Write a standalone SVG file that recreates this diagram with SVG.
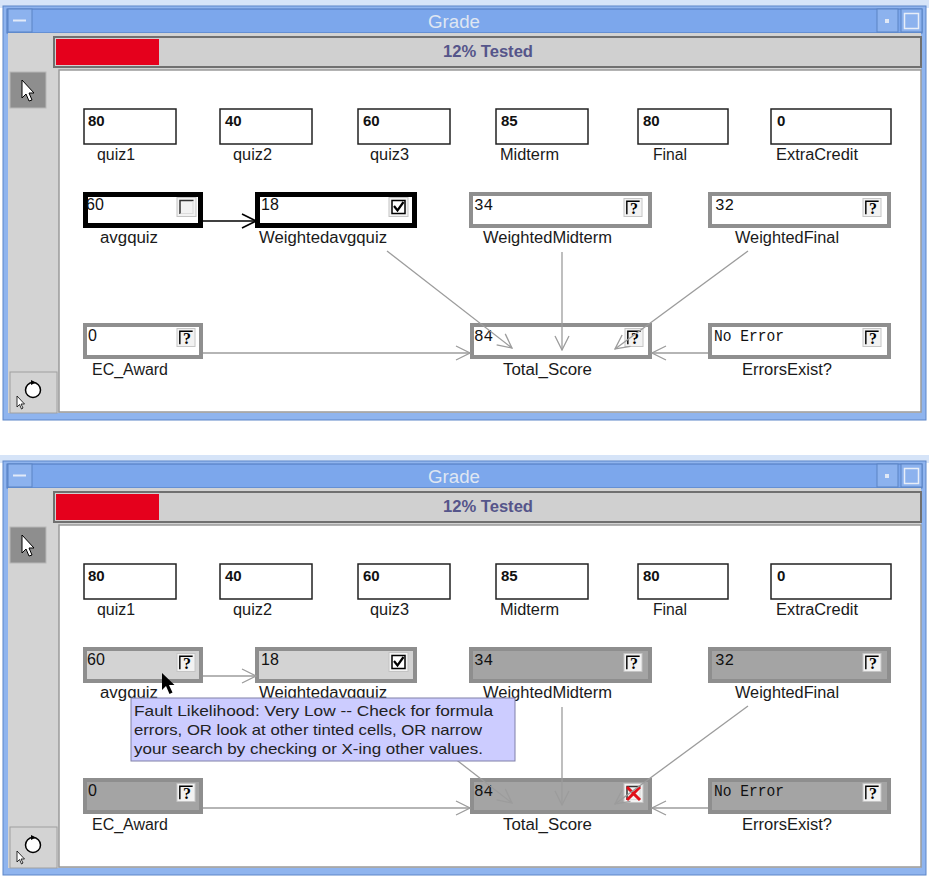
<svg xmlns="http://www.w3.org/2000/svg" xmlns:xlink="http://www.w3.org/1999/xlink" width="929" height="877" viewBox="0 0 929 877">
<style>
.frame{fill:#8fb4ee;stroke:#5d86c8;stroke-width:1}
.tbar{fill:#7ca7ec;stroke:#4f79bd;stroke-width:1}
.body{fill:#d3d3d3}
.canvas{fill:#fff;stroke:#9a9a9a;stroke-width:1.5}
.prog{fill:#d0d0d0;stroke:#707070;stroke-width:2}
.red{fill:#e5001c}
.title{font-family:"Liberation Sans",Arial,sans-serif;font-size:18px;fill:#dfe6f2}
.pct{font-family:"Liberation Sans",Arial,sans-serif;font-size:16px;font-weight:bold;fill:#55558a}
.btn{fill:#8cb2ee;stroke:#5b84c4;stroke-width:1}
.tool{fill:#8e8e8e;stroke:#b8b8b8;stroke-width:1}
.tool2{fill:#d3d3d3;stroke:#a0a0a0;stroke-width:1}
.lbl{font-family:"Liberation Sans",Arial,sans-serif;font-size:16px;fill:#1a1a1a}
.v1{font-family:"Liberation Sans",Arial,sans-serif;font-size:15px;font-weight:bold;fill:#111}
.v2{font-family:"Liberation Sans",Arial,sans-serif;font-size:16px;fill:#111}
.vm{font-family:"Liberation Mono","Courier New",monospace;font-size:16px;fill:#111}
.in{fill:#fff;stroke:#222;stroke-width:1.5}
.bn{fill:#fff;stroke:#000;stroke-width:5}
.gn{fill:#fff;stroke:#8f8f8f;stroke-width:4}
.ln{fill:#d3d3d3;stroke:#8e8e8e;stroke-width:4}
.dn{fill:#a4a4a4;stroke:#8e8e8e;stroke-width:4}
.conn{stroke:#9c9c9c;stroke-width:1.3;fill:none;marker-end:url(#ag)}
.connb{stroke:#000;stroke-width:1.5;fill:none;marker-end:url(#ab)}
.q{font-family:"Liberation Serif","Times New Roman",serif;font-size:16px;font-weight:bold;fill:#000}
.tip{fill:#ccccff;stroke:#8080a8;stroke-width:1}
.tipt{font-family:"Liberation Sans",Arial,sans-serif;font-size:15px;fill:#222}
</style>
<defs>
<marker id="ag" viewBox="0 0 16 16" refX="15" refY="8" markerWidth="16" markerHeight="16" markerUnits="userSpaceOnUse" orient="auto">
<path d="M1,1 L15,8 L1,15" fill="none" stroke="#9c9c9c" stroke-width="1.3"/>
</marker>
<marker id="ab" viewBox="0 0 16 16" refX="15" refY="8" markerWidth="16" markerHeight="16" markerUnits="userSpaceOnUse" orient="auto">
<path d="M1,1 L15,8 L1,15" fill="none" stroke="#000" stroke-width="1.6"/>
</marker>
<symbol id="boxq" viewBox="0 0 20 20" overflow="visible">
<rect x="0.5" y="0.5" width="19" height="19" fill="#f2f2f2" stroke="#c4c4c4"/>
<path d="M3.5,17 V3.5 H17" fill="none" stroke="#000" stroke-width="1.5"/>
</symbol>
<symbol id="boxe" viewBox="0 0 20 20" overflow="visible">
<rect x="0.5" y="0.5" width="19" height="19" fill="#f2f2f2" stroke="#c4c4c4"/>
<path d="M3.5,17 V3.5 H17" fill="none" stroke="#333" stroke-width="1.5"/>
<path d="M4,16.5 H16.5 V4" fill="none" stroke="#dcdcdc" stroke-width="1.2"/>
</symbol>
<symbol id="boxc" viewBox="0 0 20 20" overflow="visible">
<rect x="0.5" y="0.5" width="19" height="19" fill="#f2f2f2" stroke="#c4c4c4"/>
<rect x="3.5" y="3.5" width="13" height="13" fill="#fff" stroke="#000" stroke-width="1.5"/>
<path d="M5.5,9 L9,13.5 L15,5" fill="none" stroke="#000" stroke-width="2.2"/>
</symbol>
</defs>

<rect x="0" y="0" width="929" height="877" fill="#fff"/>

<!-- ================= TOP WINDOW ================= -->
<g id="window-top">
<rect x="0" y="0" width="929" height="8" fill="#d6e4f8"/>
<rect class="frame" x="3" y="6" width="923" height="414"/>
<rect class="tbar" x="7" y="9" width="915" height="24"/>
<text class="title" x="428" y="28" textLength="52" lengthAdjust="spacingAndGlyphs">Grade</text>
<rect class="btn" x="8" y="9" width="24" height="23"/>
<line x1="13" y1="20.5" x2="26" y2="20.5" stroke="#e2eaf8" stroke-width="2"/>
<rect class="btn" x="877" y="9" width="21" height="23"/>
<rect x="885" y="19" width="4" height="4" fill="#e0e8f5"/>
<rect class="btn" x="901" y="9" width="21" height="23"/>
<rect x="904.5" y="13.5" width="14" height="15" fill="none" stroke="#e8eef8" stroke-width="1.5"/>
<rect class="body" x="8" y="33" width="913" height="380"/>
<rect class="prog" x="54" y="37" width="867" height="30"/>
<rect class="red" x="56" y="39" width="103" height="26"/>
<text class="pct" x="443" y="57" textLength="90" lengthAdjust="spacingAndGlyphs">12% Tested</text>
<rect class="canvas" x="59" y="70" width="862" height="342"/>
<rect class="tool" x="10" y="72" width="36" height="36"/>
<path d="M22,80 L22,98 L26,94 L29,101 L32,100 L29,93 L34,93 Z" fill="#fff" stroke="#000" stroke-width="1"/>
<rect class="tool2" x="10" y="372" width="47" height="41"/>
<circle cx="33" cy="390" r="7.5" fill="#fff" stroke="#000" stroke-width="1.5"/>
<path d="M31,380 L36,382.5 L31,385 Z" fill="#000"/>
<path d="M17,396 L17,407 L19.5,404.5 L21.5,409 L23,408 L21,404 L24.5,404 Z" fill="#fff" stroke="#000" stroke-width="0.8"/>
</g>

<g id="top-quiz1"><rect class="in" x="84" y="109" width="92" height="35"/><text class="v1" x="88" y="126">80</text><text class="lbl" x="97" y="160" textLength="38" lengthAdjust="spacingAndGlyphs">quiz1</text></g>
<g id="top-quiz2"><rect class="in" x="220" y="109" width="92" height="35"/><text class="v1" x="225" y="126">40</text><text class="lbl" x="233" y="160" textLength="39" lengthAdjust="spacingAndGlyphs">quiz2</text></g>
<g id="top-quiz3"><rect class="in" x="358" y="109" width="92" height="35"/><text class="v1" x="363" y="126">60</text><text class="lbl" x="370" y="160" textLength="39" lengthAdjust="spacingAndGlyphs">quiz3</text></g>
<g id="top-midterm"><rect class="in" x="496" y="109" width="92" height="35"/><text class="v1" x="501" y="126">85</text><text class="lbl" x="500" y="160" textLength="59" lengthAdjust="spacingAndGlyphs">Midterm</text></g>
<g id="top-final"><rect class="in" x="638" y="109" width="90" height="35"/><text class="v1" x="643" y="126">80</text><text class="lbl" x="653" y="160" textLength="34" lengthAdjust="spacingAndGlyphs">Final</text></g>
<g id="top-extracredit"><rect class="in" x="771" y="109" width="120" height="35"/><text class="v1" x="777" y="126">0</text><text class="lbl" x="776" y="160" textLength="82" lengthAdjust="spacingAndGlyphs">ExtraCredit</text></g>

<g id="top-avgquiz"><rect class="bn" x="85.5" y="194.5" width="115" height="31"/><text class="v2" x="86" y="210">60</text><use href="#boxe" x="176" y="197" width="21" height="20"/><text class="lbl" x="100" y="243" textLength="58" lengthAdjust="spacingAndGlyphs">avgquiz</text></g>
<g id="top-weightedavgquiz"><rect class="bn" x="257.5" y="194.5" width="157" height="31"/><text class="v2" x="261" y="210">18</text><use href="#boxc" x="388" y="197" width="21" height="20"/><text class="lbl" x="259" y="243" textLength="128" lengthAdjust="spacingAndGlyphs">Weightedavgquiz</text></g>
<g id="top-weightedmidterm"><rect class="gn" x="471" y="194" width="179" height="32"/><text class="vm" x="474" y="210">34</text><use href="#boxq" x="623" y="198" width="20" height="19"/><text class="q" x="634" y="214" text-anchor="middle">?</text><text class="lbl" x="483" y="243" textLength="129" lengthAdjust="spacingAndGlyphs">WeightedMidterm</text></g>
<g id="top-weightedfinal"><rect class="gn" x="710" y="194" width="179" height="32"/><text class="vm" x="715" y="210">32</text><use href="#boxq" x="862" y="198" width="20" height="19"/><text class="q" x="873" y="214" text-anchor="middle">?</text><text class="lbl" x="735" y="243" textLength="104" lengthAdjust="spacingAndGlyphs">WeightedFinal</text></g>

<g id="top-ec_award"><rect class="gn" x="85" y="325" width="116" height="32"/><text class="v2" x="88" y="341">0</text><use href="#boxq" x="176" y="328" width="20" height="19"/><text class="q" x="187" y="344" text-anchor="middle">?</text><text class="lbl" x="92" y="375" textLength="76" lengthAdjust="spacingAndGlyphs">EC_Award</text></g>
<g id="top-total_score"><rect class="gn" x="472" y="325" width="178" height="32"/><text class="vm" x="474" y="341">84</text><use href="#boxq" x="624" y="328" width="20" height="19"/><text class="q" x="635" y="344" text-anchor="middle">?</text><text class="lbl" x="503" y="375" textLength="89" lengthAdjust="spacingAndGlyphs">Total_Score</text></g>
<g id="top-errorsexist"><rect class="gn" x="710" y="325" width="179" height="32"/><text class="vm" x="714" y="341" textLength="70" lengthAdjust="spacingAndGlyphs">No Error</text><use href="#boxq" x="862" y="328" width="20" height="19"/><text class="q" x="873" y="344" text-anchor="middle">?</text><text class="lbl" x="742" y="375" textLength="90" lengthAdjust="spacingAndGlyphs">ErrorsExist?</text></g>

<g id="connectors-top">
<line class="connb" x1="203" y1="221" x2="256" y2="221"/>
<line class="conn" x1="387" y1="251" x2="512" y2="348"/>
<line class="conn" x1="562" y1="252" x2="562" y2="350"/>
<line class="conn" x1="748" y1="251" x2="615" y2="349"/>
<line class="conn" x1="203" y1="353" x2="470" y2="353"/>
<line class="conn" x1="708" y1="353" x2="652" y2="353"/>
</g>

<!-- ================= BOTTOM WINDOW ================= -->
<g id="window-bottom" transform="translate(0,455)">
<rect x="0" y="0" width="929" height="8" fill="#d6e4f8"/>
<rect class="frame" x="3" y="6" width="923" height="414"/>
<rect class="tbar" x="7" y="9" width="915" height="24"/>
<text class="title" x="428" y="28" textLength="52" lengthAdjust="spacingAndGlyphs">Grade</text>
<rect class="btn" x="8" y="9" width="24" height="23"/>
<line x1="13" y1="20.5" x2="26" y2="20.5" stroke="#e2eaf8" stroke-width="2"/>
<rect class="btn" x="877" y="9" width="21" height="23"/>
<rect x="885" y="19" width="4" height="4" fill="#e0e8f5"/>
<rect class="btn" x="901" y="9" width="21" height="23"/>
<rect x="904.5" y="13.5" width="14" height="15" fill="none" stroke="#e8eef8" stroke-width="1.5"/>
<rect class="body" x="8" y="33" width="913" height="380"/>
<rect class="prog" x="54" y="37" width="867" height="30"/>
<rect class="red" x="56" y="39" width="103" height="26"/>
<text class="pct" x="443" y="57" textLength="90" lengthAdjust="spacingAndGlyphs">12% Tested</text>
<rect class="canvas" x="59" y="70" width="862" height="342"/>
<rect class="tool" x="10" y="72" width="36" height="36"/>
<path d="M22,80 L22,98 L26,94 L29,101 L32,100 L29,93 L34,93 Z" fill="#fff" stroke="#000" stroke-width="1"/>
<rect class="tool2" x="10" y="372" width="47" height="41"/>
<circle cx="33" cy="390" r="7.5" fill="#fff" stroke="#000" stroke-width="1.5"/>
<path d="M31,380 L36,382.5 L31,385 Z" fill="#000"/>
<path d="M17,396 L17,407 L19.5,404.5 L21.5,409 L23,408 L21,404 L24.5,404 Z" fill="#fff" stroke="#000" stroke-width="0.8"/>
</g>

<g transform="translate(0,455)">
<g id="bot-quiz1"><rect class="in" x="84" y="109" width="92" height="35"/><text class="v1" x="88" y="126">80</text><text class="lbl" x="97" y="160" textLength="38" lengthAdjust="spacingAndGlyphs">quiz1</text></g>
<g id="bot-quiz2"><rect class="in" x="220" y="109" width="92" height="35"/><text class="v1" x="225" y="126">40</text><text class="lbl" x="233" y="160" textLength="39" lengthAdjust="spacingAndGlyphs">quiz2</text></g>
<g id="bot-quiz3"><rect class="in" x="358" y="109" width="92" height="35"/><text class="v1" x="363" y="126">60</text><text class="lbl" x="370" y="160" textLength="39" lengthAdjust="spacingAndGlyphs">quiz3</text></g>
<g id="bot-midterm"><rect class="in" x="496" y="109" width="92" height="35"/><text class="v1" x="501" y="126">85</text><text class="lbl" x="500" y="160" textLength="59" lengthAdjust="spacingAndGlyphs">Midterm</text></g>
<g id="bot-final"><rect class="in" x="638" y="109" width="90" height="35"/><text class="v1" x="643" y="126">80</text><text class="lbl" x="653" y="160" textLength="34" lengthAdjust="spacingAndGlyphs">Final</text></g>
<g id="bot-extracredit"><rect class="in" x="771" y="109" width="120" height="35"/><text class="v1" x="777" y="126">0</text><text class="lbl" x="776" y="160" textLength="82" lengthAdjust="spacingAndGlyphs">ExtraCredit</text></g>

<g id="bot-avgquiz"><rect class="ln" x="85" y="194" width="116" height="32"/><text class="v2" x="87" y="210">60</text><use href="#boxq" x="176" y="198" width="20" height="19"/><text class="q" x="187" y="214" text-anchor="middle">?</text><text class="lbl" x="100" y="243" textLength="58" lengthAdjust="spacingAndGlyphs">avgquiz</text></g>
<g id="bot-weightedavgquiz"><rect class="ln" x="257" y="194" width="158" height="32"/><text class="v2" x="261" y="210">18</text><use href="#boxc" x="388" y="197" width="21" height="20"/><text class="lbl" x="259" y="243" textLength="128" lengthAdjust="spacingAndGlyphs">Weightedavgquiz</text></g>
<g id="bot-weightedmidterm"><rect class="dn" x="471" y="194" width="179" height="32"/><text class="vm" x="474" y="210">34</text><use href="#boxq" x="623" y="198" width="20" height="19"/><text class="q" x="634" y="214" text-anchor="middle">?</text><text class="lbl" x="483" y="243" textLength="129" lengthAdjust="spacingAndGlyphs">WeightedMidterm</text></g>
<g id="bot-weightedfinal"><rect class="dn" x="710" y="194" width="179" height="32"/><text class="vm" x="715" y="210">32</text><use href="#boxq" x="862" y="198" width="20" height="19"/><text class="q" x="873" y="214" text-anchor="middle">?</text><text class="lbl" x="735" y="243" textLength="104" lengthAdjust="spacingAndGlyphs">WeightedFinal</text></g>

<g id="bot-ec_award"><rect class="dn" x="85" y="325" width="116" height="32"/><text class="v2" x="88" y="341">0</text><use href="#boxq" x="176" y="328" width="20" height="19"/><text class="q" x="187" y="344" text-anchor="middle">?</text><text class="lbl" x="92" y="375" textLength="76" lengthAdjust="spacingAndGlyphs">EC_Award</text></g>
<g id="bot-total_score"><rect class="dn" x="472" y="325" width="178" height="32"/><text class="vm" x="474" y="341">84</text><use href="#boxe" x="623" y="328" width="21" height="20"/><path d="M627,332 L640,345 M640,332 L627,345" stroke="#e0101a" stroke-width="3" fill="none"/><text class="lbl" x="503" y="375" textLength="89" lengthAdjust="spacingAndGlyphs">Total_Score</text></g>
<g id="bot-errorsexist"><rect class="dn" x="710" y="325" width="179" height="32"/><text class="vm" x="714" y="341" textLength="70" lengthAdjust="spacingAndGlyphs">No Error</text><use href="#boxq" x="862" y="328" width="20" height="19"/><text class="q" x="873" y="344" text-anchor="middle">?</text><text class="lbl" x="742" y="375" textLength="90" lengthAdjust="spacingAndGlyphs">ErrorsExist?</text></g>

<g id="connectors-bottom">
<line class="conn" x1="203" y1="221" x2="256" y2="221"/>
<line class="conn" x1="387" y1="251" x2="512" y2="348"/>
<line class="conn" x1="562" y1="252" x2="562" y2="350"/>
<line class="conn" x1="748" y1="251" x2="615" y2="349"/>
<line class="conn" x1="203" y1="353" x2="470" y2="353"/>
<line class="conn" x1="708" y1="353" x2="652" y2="353"/>
</g>
</g>

<g id="tooltip">
<rect class="tip" x="131" y="698" width="384" height="63"/>
<text class="tipt" x="134" y="716" textLength="359" lengthAdjust="spacingAndGlyphs">Fault Likelihood: Very Low -- Check for formula</text>
<text class="tipt" x="134" y="735" textLength="348" lengthAdjust="spacingAndGlyphs">errors, OR look at other tinted cells, OR narrow</text>
<text class="tipt" x="134" y="754" textLength="349" lengthAdjust="spacingAndGlyphs">your search by checking or X-ing other values.</text>
</g>
<path id="mouse-cursor" d="M162,673 L162,690 L166,686 L169.5,694 L172.5,692.5 L169,685 L174.5,685 Z" fill="#000"/>
</svg>
